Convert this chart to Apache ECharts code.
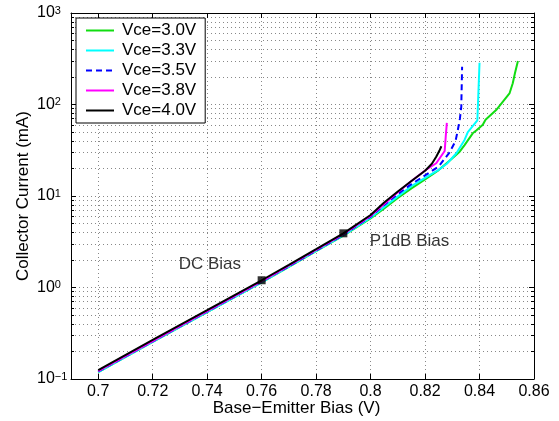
<!DOCTYPE html>
<html>
<head>
<meta charset="utf-8">
<script src="https://cdn.jsdelivr.net/npm/echarts@6/dist/echarts.min.js"></script>
<style>html,body{margin:0;padding:0;background:#fff}#c{width:559px;height:421px}</style>
</head>
<body>
<div id="c"></div>
<script>
// ---- data ----
const seriesNames = ['Vce=3.0V', 'Vce=3.3V', 'Vce=3.5V', 'Vce=3.8V', 'Vce=4.0V'];
const vbe30 = [0.70, 0.72, 0.74, 0.76, 0.77, 0.78, 0.79, 0.80, 0.805, 0.81, 0.815, 0.82, 0.825, 0.8295, 0.8327, 0.8345, 0.8375, 0.8388, 0.8412, 0.8422, 0.8461, 0.851, 0.8522, 0.853, 0.8541];
const ic30  = [0.119, 0.254, 0.538, 1.14, 1.68, 2.49, 3.69, 5.7, 7.3, 9.5, 12.1, 15.2, 19.2, 25, 30.5, 36, 48.4, 52, 60, 68, 87, 132, 171, 220, 299];
const vbe33 = [0.70, 0.72, 0.74, 0.76, 0.77, 0.78, 0.79, 0.80, 0.805, 0.81, 0.815, 0.82, 0.825, 0.828, 0.8315, 0.8345, 0.8357, 0.8375, 0.8392, 0.84];
const ic33  = [0.119, 0.254, 0.538, 1.14, 1.69, 2.51, 3.72, 5.8, 7.6, 9.9, 12.8, 15.8, 19.3, 22.5, 29.3, 41, 50, 58, 67, 286];
const vbe35 = [0.70, 0.72, 0.74, 0.76, 0.77, 0.78, 0.79, 0.80, 0.805, 0.81, 0.815, 0.82, 0.825, 0.829, 0.8312, 0.832, 0.8328, 0.8333, 0.8336];
const ic35  = [0.121, 0.258, 0.547, 1.16, 1.71, 2.54, 3.77, 5.95, 8.0, 10.5, 13.5, 16.8, 21, 30, 40, 52, 70, 95, 259];
const vbe38 = [0.70, 0.72, 0.74, 0.76, 0.77, 0.78, 0.79, 0.80, 0.805, 0.81, 0.815, 0.82, 0.8241, 0.8272, 0.8276, 0.828];
const ic38  = [0.122, 0.26, 0.551, 1.17, 1.73, 2.57, 3.82, 6.05, 8.2, 11.0, 14.6, 19.0, 22.8, 31, 45, 63];
const vbe40 = [0.70, 0.72, 0.74, 0.76, 0.77, 0.78, 0.79, 0.80, 0.805, 0.81, 0.815, 0.82, 0.8225, 0.8241, 0.8252, 0.826];
const ic40  = [0.125, 0.267, 0.565, 1.20, 1.77, 2.63, 3.91, 6.2, 8.5, 11.2, 14.6, 18.9, 22.5, 26.9, 31, 35];
const biasVbe = [0.76, 0.79];
const biasIc = [1.20, 3.91];
const noteText = ['DC Bias', 'P1dB Bias'];
const noteVbe = [0.741, 0.8143];
const noteIc = [1.80, 3.17];
const xTicks = [0.70, 0.72, 0.74, 0.76, 0.78, 0.80, 0.82, 0.84, 0.86];
const yMinorLog = [];
[-1, 0, 1, 2].forEach(d => { for (let k = 2; k <= 9; k++) yMinorLog.push(d + Math.log10(k)); });

const colors = ['#11dd11', '#00ffff', '#0000ff', '#ff00ff', '#000000'];
const vbes = [vbe30, vbe33, vbe35, vbe38, vbe40];
const ics = [ic30, ic33, ic35, ic38, ic40];
const FONT = 'Liberation Sans, Arial, Helvetica, sans-serif';
const gridDot = { type: [1, 3], color: '#888', width: 1 };

const lineSeries = seriesNames.map((n, i) => ({
  name: n, type: 'line', xAxisIndex: 0, yAxisIndex: 0,
  symbol: 'none', smooth: false,
  data: vbes[i].map((v, j) => [v, ics[i][j]]),
  lineStyle: { color: colors[i], width: 2, type: i === 2 ? [6, 4] : 'solid' },
  itemStyle: { color: colors[i] },
  z: 2 + i
}));

const option = {
  animation: false,
  backgroundColor: '#fff',
  textStyle: { fontFamily: FONT },
  grid: { left: 71, right: 25, top: 13, bottom: 42, containLabel: false, outerBoundsMode: 'none' },
  legend: {
    data: seriesNames, orient: 'vertical', left: 76, top: 18,
    backgroundColor: '#fff', borderColor: '#000', borderWidth: 1, borderRadius: 0,
    padding: [4, 9, 4, 9], itemWidth: 28, itemHeight: 16, itemGap: 3,
    itemStyle: { opacity: 0 },
    textStyle: { fontSize: 17, color: '#000', fontFamily: FONT, padding: [0, 0, 0, 3], lineHeight: 16 }
  },
  xAxis: [
    {
      type: 'value', min: 0.69, max: 0.86, position: 'bottom',
      name: 'Base\u2212Emitter Bias (V)', nameLocation: 'middle', nameGap: 21, nameMoveOverlap: false,
      nameTextStyle: { fontSize: 17, color: '#000', fontFamily: FONT, padding: [0, 12, 0, 0] },
      axisLine: { onZero: false, lineStyle: { color: '#000', width: 1 } },
      axisTick: { inside: true, length: 5, customValues: xTicks, lineStyle: { color: '#000' } },
      axisLabel: { customValues: xTicks, fontSize: 16, color: '#000', margin: 5, fontFamily: FONT,
        formatter: v => String(Math.round(v * 100) / 100) },
      splitLine: { show: true, lineStyle: gridDot }
    },
    {
      type: 'value', min: 0.69, max: 0.86, position: 'top',
      axisLine: { onZero: false, lineStyle: { color: '#000', width: 1 } },
      axisTick: { inside: true, length: 5, customValues: xTicks, lineStyle: { color: '#000' } },
      axisLabel: { show: false }, splitLine: { show: false }
    }
  ],
  yAxis: [
    {
      type: 'log', logBase: 10, min: 0.1, max: 1000, position: 'left',
      name: 'Collector Current (mA)', nameLocation: 'middle', nameGap: 39, nameRotate: 90, nameMoveOverlap: false,
      nameTextStyle: { fontSize: 17, color: '#000', fontFamily: FONT },
      axisLine: { onZero: false, lineStyle: { color: '#000', width: 1 } },
      axisTick: { inside: true, length: 5, lineStyle: { color: '#000' } },
      axisLabel: {
        align: 'left', margin: 34, color: '#000',
        formatter: v => { const e = Math.round(Math.log10(v)); return '{b|10}{s|' + (e < 0 ? '\u2212' + (-e) : e) + '}'; },
        rich: {
          b: { fontSize: 16, color: '#000', fontFamily: FONT, verticalAlign: 'bottom' },
          s: { fontSize: 11, color: '#000', fontFamily: FONT, verticalAlign: 'bottom', padding: [0, 0, 5, 0] }
        }
      },
      splitLine: { show: true, lineStyle: gridDot }
    },
    {
      type: 'log', logBase: 10, min: 0.1, max: 1000, position: 'right',
      axisLine: { onZero: false, lineStyle: { color: '#000', width: 1 } },
      axisTick: { inside: true, length: 5, lineStyle: { color: '#000' } },
      axisLabel: { show: false }, splitLine: { show: false }
    },
    {
      type: 'value', min: -1, max: 3, position: 'left',
      axisLine: { show: false },
      axisTick: { inside: true, length: 3, customValues: yMinorLog, lineStyle: { color: '#000' } },
      axisLabel: { show: false, customValues: yMinorLog },
      splitLine: { show: true, lineStyle: gridDot }
    },
    {
      type: 'value', min: -1, max: 3, position: 'right',
      axisLine: { show: false },
      axisTick: { inside: true, length: 3, customValues: yMinorLog, lineStyle: { color: '#000' } },
      axisLabel: { show: false, customValues: yMinorLog },
      splitLine: { show: false }
    }
  ],
  series: lineSeries.concat([
    {
      name: 'bias', type: 'scatter', xAxisIndex: 0, yAxisIndex: 0,
      symbol: 'rect', symbolSize: 8, itemStyle: { color: '#000' },
      data: biasVbe.map((v, i) => [v, biasIc[i]]), z: 10
    },
    {
      name: 'notes', type: 'scatter', xAxisIndex: 0, yAxisIndex: 0,
      symbolSize: 0, silent: true,
      data: noteVbe.map((v, i) => ({ value: [v, noteIc[i]], name: noteText[i] })),
      label: { show: true, position: 'inside', formatter: p => p.name, fontSize: 17, color: '#000', fontFamily: FONT },
      z: 11
    }
  ])
};
const chart = echarts.init(document.getElementById('c'), null, { renderer: 'canvas' });
chart.setOption(option);
</script>
</body>
</html>
